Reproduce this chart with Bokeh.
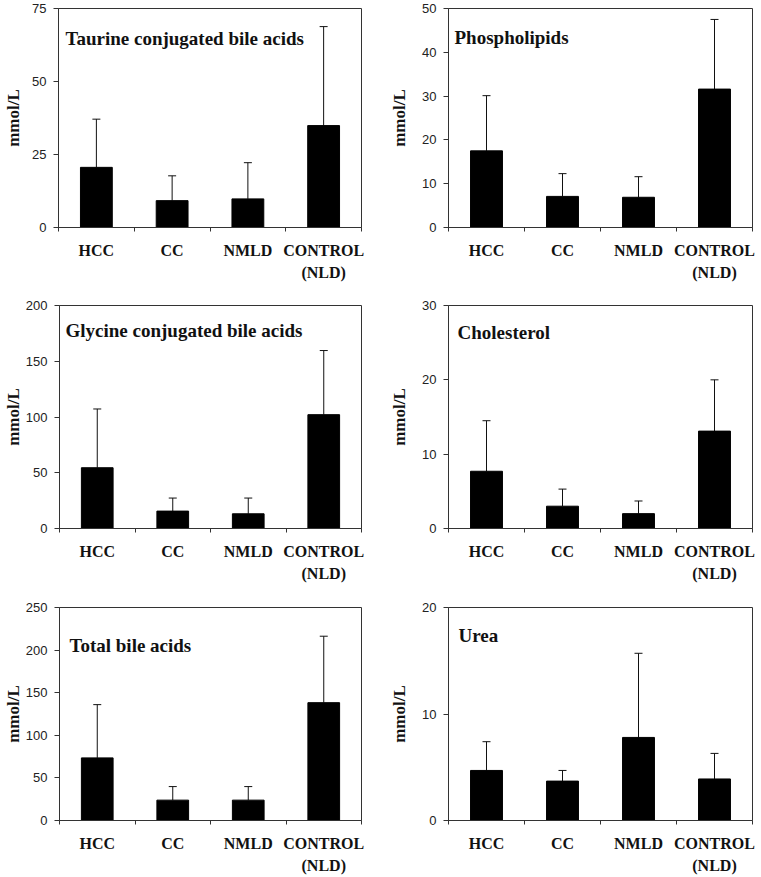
from bokeh.plotting import figure
from bokeh.models import Range1d, FixedTicker, Whisker, TeeHead, Label, ColumnDataSource
from bokeh.layouts import row, column
from bokeh.embed import file_html
from bokeh.resources import INLINE

# ---------------- data ----------------
categories = ["HCC", "CC", "NMLD", "CONTROL\n(NLD)"]
y_label = "mmol/L"

taurine_title = "Taurine conjugated bile acids"
taurine_mean = [20.6, 9.2, 9.8, 34.9]
taurine_sd = [16.5, 8.5, 12.4, 33.9]
taurine_ticks = [0, 25, 50, 75]

phospho_title = "Phospholipids"
phospho_mean = [17.5, 7.1, 6.9, 31.6]
phospho_sd = [12.6, 5.2, 4.7, 15.9]
phospho_ticks = [0, 10, 20, 30, 40, 50]

glycine_title = "Glycine conjugated bile acids"
glycine_mean = [54.5, 15.6, 13.2, 102.1]
glycine_sd = [52.7, 11.7, 14.1, 57.5]
glycine_ticks = [0, 50, 100, 150, 200]

chol_title = "Cholesterol"
chol_mean = [7.7, 3.0, 2.0, 13.1]
chol_sd = [6.8, 2.3, 1.7, 6.9]
chol_ticks = [0, 10, 20, 30]

total_title = "Total bile acids"
total_mean = [73.5, 23.9, 23.9, 138.3]
total_sd = [62.5, 15.9, 15.9, 78.0]
total_ticks = [0, 50, 100, 150, 200, 250]

urea_title = "Urea"
urea_mean = [4.7, 3.7, 7.8, 3.9]
urea_sd = [2.7, 1.0, 7.9, 2.4]
urea_ticks = [0, 10, 20]

SERIF = "Liberation Serif"
SANS = "Liberation Sans"


def panel(title, means, sds, ticks, width, height, borders, title_off, ylab_standoff):
    left, right, top, bottom = borders
    n = len(categories)
    p = figure(width=width, height=height, output_backend="svg", toolbar_location=None,
               x_range=Range1d(-0.5, n - 0.5), y_range=Range1d(ticks[0], ticks[-1]),
               min_border_left=left, min_border_right=right,
               min_border_top=top, min_border_bottom=bottom)
    p.xgrid.visible = False
    p.ygrid.visible = False
    p.outline_line_color = "#333333"
    p.outline_line_width = 1
    p.background_fill_color = "white"
    p.border_fill_color = "white"

    xs = list(range(n))
    src = ColumnDataSource(dict(x=xs, mean=means,
                                upper=[m + s for m, s in zip(means, sds)]))
    p.vbar(x="x", top="mean", width=0.42, bottom=0, source=src,
           fill_color="black", line_color="black")
    w = Whisker(source=src, base="x", lower="mean", upper="upper", dimension="height",
                line_color="#111111", line_width=1,
                upper_head=TeeHead(size=8, line_color="#111111", line_width=1),
                lower_head=None)
    p.add_layout(w)

    # y axis
    ya = p.yaxis[0]
    ya.ticker = FixedTicker(ticks=ticks)
    ya.major_tick_out = 5
    ya.major_tick_in = 0
    ya.minor_tick_out = 0
    ya.minor_tick_in = 0
    ya.axis_line_color = "#333333"
    ya.major_tick_line_color = "#333333"
    ya.major_label_text_font = SANS
    ya.major_label_text_font_size = "13px"
    ya.major_label_text_color = "#222222"
    ya.major_label_standoff = 7
    ya.axis_label = y_label
    ya.axis_label_text_font = SERIF
    ya.axis_label_text_font_style = "bold"
    ya.axis_label_text_font_size = "17px"
    ya.axis_label_text_color = "#111111"
    ya.axis_label_standoff = ylab_standoff

    # x axis
    xa = p.xaxis[0]
    xa.ticker = FixedTicker(ticks=xs, minor_ticks=[i - 0.5 for i in range(n + 1)])
    xa.major_label_overrides = {i: c for i, c in zip(xs, categories)}
    xa.major_tick_out = 0
    xa.major_tick_in = 0
    xa.minor_tick_out = 4
    xa.minor_tick_in = 0
    xa.minor_tick_line_color = "#333333"
    xa.axis_line_color = "#333333"
    xa.major_label_text_font = SERIF
    xa.major_label_text_font_style = "bold"
    xa.major_label_text_font_size = "16px"
    xa.major_label_text_color = "#111111"
    xa.major_label_text_line_height = 1.35
    xa.major_label_standoff = 10

    # title inside the frame
    p.add_layout(Label(x=-0.5, y=ticks[-1], x_offset=title_off[0], y_offset=title_off[1],
                       text=title, text_font=SERIF, text_font_style="bold",
                       text_font_size="19px", text_color="#111111",
                       text_baseline="middle", text_align="left"))
    return p


LW, RW = 380, 381
p1 = panel(taurine_title, taurine_mean, taurine_sd, taurine_ticks, LW, 290, (58, 19, 8, 63), (7, -30), 6)
p2 = panel(phospho_title, phospho_mean, phospho_sd, phospho_ticks, RW, 290, (68, 9, 8, 60), (6, -29), 10)
p3 = panel(glycine_title, glycine_mean, glycine_sd, glycine_ticks, LW, 295, (58, 19, 15, 57), (6, -25), 0)
p4 = panel(chol_title, chol_mean, chol_sd, chol_ticks, RW, 295, (68, 9, 15, 57), (9, -27), 10)
p5 = panel(total_title, total_mean, total_sd, total_ticks, LW, 292, (58, 19, 20, 57), (10, -38), 0)
p6 = panel(urea_title, urea_mean, urea_sd, urea_ticks, RW, 292, (68, 9, 22, 57), (10, -28), 10)

layout = column(row(p1, p2), row(p3, p4), row(p5, p6))

open("out.html", "w").write(file_html(layout, INLINE))
